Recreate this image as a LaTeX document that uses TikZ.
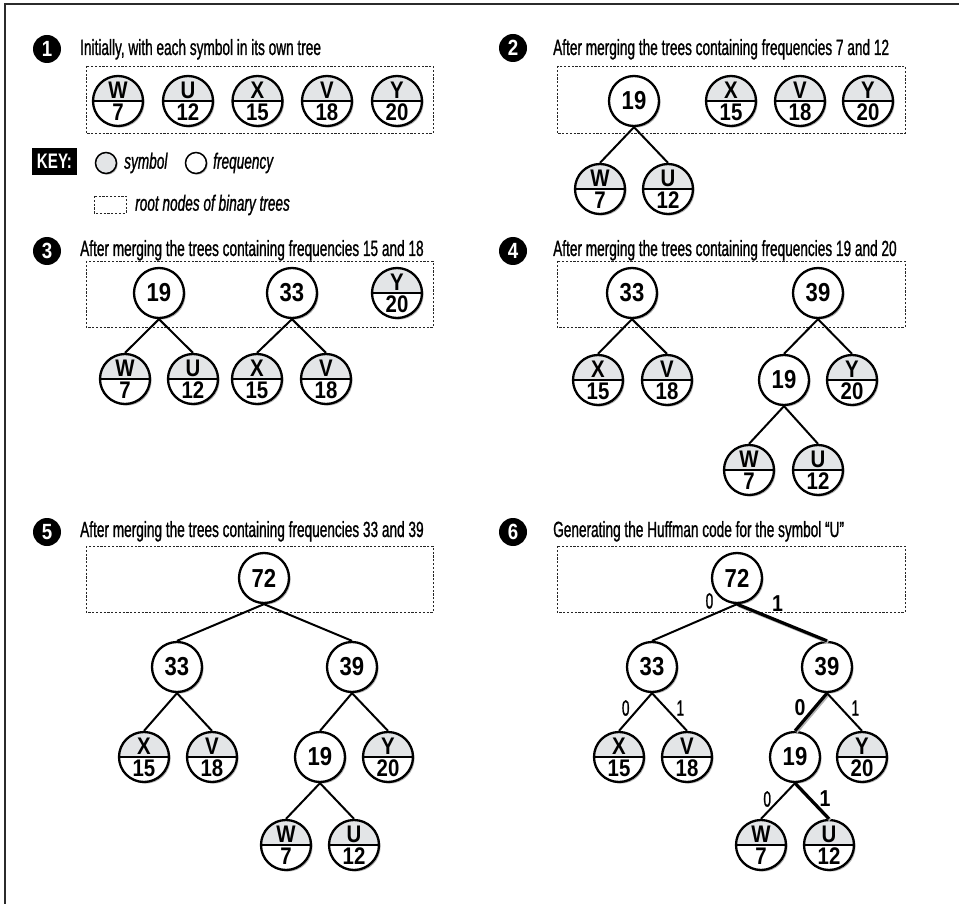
\documentclass[tikz,border=0pt]{standalone}
\usepackage{fontspec}
\setmainfont{Liberation Sans}[FakeStretch=0.62, FakeBold=1]
\newfontfamily\nodefont{Liberation Sans}[FakeStretch=0.85]
\newfontfamily\keyfont{Liberation Sans}[FakeStretch=0.72]
\usetikzlibrary{shadows}
\definecolor{LeafGray}{HTML}{E3E5E7}
\definecolor{FrameInk}{HTML}{2B2B2B}

% leaf of a tree: name, position, symbol, frequency
\newcommand\leafnode[4]{%
  \node[leaf] (#1) at (#2) {};
  \node[leaftext, anchor=base] (#1s) at ([yshift=2.4pt]#1.center) {#3};
  \node[leaftext, anchor=base] (#1f) at ([yshift=-19.8pt]#1.center) {#4};
}

\begin{document}
\begin{tikzpicture}[x=1pt, y=-1pt,
  heading/.style={anchor=base west, inner sep=0pt, font=\fontsize{22}{24}\selectfont},
  stepno/.style={circle, fill=black, minimum size=28pt, inner sep=0pt, text=white,
                 font=\fontsize{22}{22}\selectfont\nodefont\bfseries},
  roots/.style={draw=black!85, line width=0.9pt, dash pattern=on 2.2pt off 1.6pt},
  freq/.style={circle, draw, line width=2.3pt, fill=white, minimum size=50pt, inner sep=0pt,
               font=\fontsize{26}{26}\selectfont\nodefont\bfseries,
               drop shadow={shadow xshift=1.6pt, shadow yshift=-1.6pt, fill=black, opacity=0.3}},
  leaf/.style={freq, path picture={
      \fill[LeafGray] (path picture bounding box.west) rectangle (path picture bounding box.north east);
      \draw[line width=2.2pt] (path picture bounding box.west) -- (path picture bounding box.east);}},
  leaftext/.style={inner sep=0pt, font=\fontsize{24}{24}\selectfont\nodefont\bfseries},
  branch/.style={line width=2pt},
  codepath/.style={line width=3.2pt,
      preaction={draw, line width=3.2pt, black!30, transform canvas={shift={(1.3pt,-1.3pt)}}}},
  bit/.style={inner sep=0pt, font=\fontsize{22}{22}\selectfont},
  hibit/.style={inner sep=0pt, font=\fontsize{23}{23}\selectfont\nodefont\bfseries},
  keydot/.style={circle, draw, line width=1.5pt, minimum size=21pt, inner sep=0pt,
                 drop shadow={shadow xshift=1.2pt, shadow yshift=-1.2pt, fill=black, opacity=0.3}},
  keytext/.style={anchor=west, inner sep=0pt, font=\fontsize{22}{24}\selectfont\itshape}]
\useasboundingbox (0,0) rectangle (959,904);
\draw[FrameInk, line width=1.8pt] (959,4) -- (5,4) -- (5,904);

% root boxes
\draw[roots] (86,66) rectangle (433,133);
\draw[roots] (557,66) rectangle (905,133);
\draw[roots] (86,261) rectangle (433,327);
\draw[roots] (557,261) rectangle (905,327);
\draw[roots] (86,546) rectangle (433,612);
\draw[roots] (557,546) rectangle (905,612);

% step 1
\node[stepno] (s1) at (47,49) {1};
\node[heading] (t1) at (80,55) {Initially, with each symbol in its own tree};
\leafnode{p1w}{118,101}{W}{7}
\leafnode{p1u}{188,101}{U}{12}
\leafnode{p1x}{257.5,101}{X}{15}
\leafnode{p1v}{327,101}{V}{18}
\leafnode{p1y}{397,101}{Y}{20}

% key
\node[fill=black, text=white, minimum width=45pt, minimum height=27pt, inner sep=0pt,
      font=\fontsize{21}{21}\selectfont\keyfont\bfseries] (key) at (54.5,161.5) {KEY:};
\node[keydot, fill=LeafGray] (ksym) at (106,163) {};
\node[keytext] (ksymt) at (124,163) {symbol};
\node[keydot, fill=white] (kfreq) at (196,163) {};
\node[keytext] (kfreqt) at (213,163) {frequency};
\draw[roots, line width=0.7pt] (94,196) rectangle (126,213);
\node[keytext] (kroot) at (135,205) {root nodes of binary trees};

% step 2
\node[stepno] (s2) at (513,48) {2};
\node[heading] (t2) at (553,55) {After merging the trees containing frequencies 7 and 12};
\node[freq] (p2n19) at (634,101) {19};
\leafnode{p2x}{731,101}{X}{15}
\leafnode{p2v}{800,101}{V}{18}
\leafnode{p2y}{868,101}{Y}{20}
\leafnode{p2w}{600,189}{W}{7}
\leafnode{p2u}{668,189}{U}{12}
\draw[branch] (p2n19.south) -- (p2w.north);
\draw[branch] (p2n19.south) -- (p2u.north);

% step 3
\node[stepno] (s3) at (47,251) {3};
\node[heading] (t3) at (80,256) {After merging the trees containing frequencies 15 and 18};
\node[freq] (p3n19) at (159,293) {19};
\node[freq] (p3n33) at (292,293) {33};
\leafnode{p3y}{397,293}{Y}{20}
\leafnode{p3w}{125,379}{W}{7}
\leafnode{p3u}{193,379}{U}{12}
\leafnode{p3x}{257,379}{X}{15}
\leafnode{p3v}{326,379}{V}{18}
\draw[branch] (p3n19.south) -- (p3w.north);
\draw[branch] (p3n19.south) -- (p3u.north);
\draw[branch] (p3n33.south) -- (p3x.north);
\draw[branch] (p3n33.south) -- (p3v.north);

% step 4
\node[stepno] (s4) at (513,251) {4};
\node[heading] (t4) at (553,256) {After merging the trees containing frequencies 19 and 20};
\node[freq] (p4n33) at (632,293) {33};
\node[freq] (p4n39) at (818,293) {39};
\leafnode{p4x}{598,380}{X}{15}
\leafnode{p4v}{667,380}{V}{18}
\node[freq] (p4n19) at (784,380) {19};
\leafnode{p4y}{852,380}{Y}{20}
\leafnode{p4w}{749,470}{W}{7}
\leafnode{p4u}{818,470}{U}{12}
\draw[branch] (p4n33.south) -- (p4x.north);
\draw[branch] (p4n33.south) -- (p4v.north);
\draw[branch] (p4n39.south) -- (p4n19.north);
\draw[branch] (p4n39.south) -- (p4y.north);
\draw[branch] (p4n19.south) -- (p4w.north);
\draw[branch] (p4n19.south) -- (p4u.north);

% step 5
\node[stepno] (s5) at (47,532) {5};
\node[heading] (t5) at (80,537) {After merging the trees containing frequencies 33 and 39};
\node[freq] (p5n72) at (264,578) {72};
\node[freq] (p5n33) at (177,667) {33};
\node[freq] (p5n39) at (352,667) {39};
\leafnode{p5x}{144,757}{X}{15}
\leafnode{p5v}{212,757}{V}{18}
\node[freq] (p5n19) at (320,757) {19};
\leafnode{p5y}{388,757}{Y}{20}
\leafnode{p5w}{286,845}{W}{7}
\leafnode{p5u}{354,845}{U}{12}
\draw[branch] (p5n72.south) -- (p5n33.north);
\draw[branch] (p5n72.south) -- (p5n39.north);
\draw[branch] (p5n33.south) -- (p5x.north);
\draw[branch] (p5n33.south) -- (p5v.north);
\draw[branch] (p5n39.south) -- (p5n19.north);
\draw[branch] (p5n39.south) -- (p5y.north);
\draw[branch] (p5n19.south) -- (p5w.north);
\draw[branch] (p5n19.south) -- (p5u.north);

% step 6
\node[stepno] (s6) at (513,532) {6};
\node[heading] (t6) at (553,537) {Generating the Huffman code for the symbol “U”};
\node[freq] (p6n72) at (737,578) {72};
\node[freq] (p6n33) at (652,667) {33};
\node[freq] (p6n39) at (827,667) {39};
\leafnode{p6x}{619,757}{X}{15}
\leafnode{p6v}{687,757}{V}{18}
\node[freq] (p6n19) at (795,757) {19};
\leafnode{p6y}{862,757}{Y}{20}
\leafnode{p6w}{761,845}{W}{7}
\leafnode{p6u}{829,845}{U}{12}
\draw[branch] (p6n72.south) -- node[bit, pos=0.15, anchor=south east, xshift=-10pt] (b1) {0} (p6n33.north);
\draw[codepath] (p6n72.south) -- node[hibit, pos=0.25, anchor=south west, xshift=11pt] (b2) {1} (p6n39.north);
\draw[branch] (p6n33.south) -- node[bit, midway, left=5pt, yshift=4pt] (b3) {0} (p6x.north);
\draw[branch] (p6n33.south) -- node[bit, midway, right=6pt, yshift=4pt] (b4) {1} (p6v.north);
\draw[codepath] (p6n39.south) -- node[hibit, midway, left=4pt, yshift=4pt] (b5) {0} (p6n19.north);
\draw[branch] (p6n39.south) -- node[bit, midway, right=6pt, yshift=4pt] (b6) {1} (p6y.north);
\draw[branch] (p6n19.south) -- node[bit, midway, left=6pt, yshift=2pt] (b7) {0} (p6w.north);
\draw[codepath] (p6n19.south) -- node[hibit, midway, right=6pt, yshift=2pt] (b8) {1} (p6u.north);
\end{tikzpicture}
\end{document}
